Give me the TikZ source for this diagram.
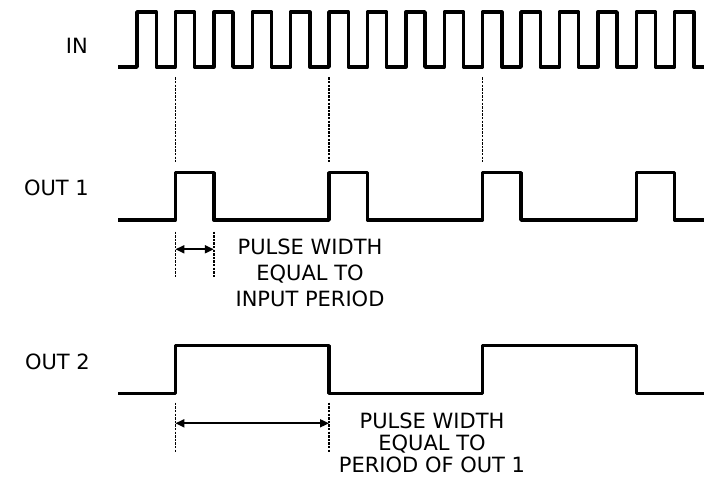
\documentclass[tikz,border=0pt]{standalone}
\usepackage{fontspec}
\setmainfont{DejaVu Sans}
\usetikzlibrary{arrows.meta}
\begin{document}
\begin{tikzpicture}[x=1pt,y=-1pt,
  wave/.style={line width=3.4pt, line join=round},
  guide/.style={line width=1.5pt, dash pattern=on 2.4pt off 1.2pt},
  dimarrow/.style={line width=1.8pt, {Triangle[length=9pt,width=8pt]}-{Triangle[length=9pt,width=8pt]}},
  lbl/.style={font=\fontsize{21}{26}\selectfont, inner sep=0pt, anchor=base east},
  note/.style={font=\fontsize{21}{26}\selectfont, inner sep=0pt, anchor=base}]
\useasboundingbox (0,0) rectangle (704,478);

% labels
\node[lbl] (lin) at (88,53.3) {IN};
\node[lbl] (lout1) at (89,196) {OUT 1};
\node[lbl] (lout2) at (90,369.3) {OUT 2};

% IN waveform
\draw[wave] (118,67)
  \foreach \k in {0,...,14} {
    -- ({137+38.4*\k},67) -- ({137+38.4*\k},12)
    -- ({156.2+38.4*\k},12) -- ({156.2+38.4*\k},67)
  } -- (704,67);

% OUT 1 waveform
\draw[wave] (118,220)
  \foreach \s in {175.4,329,482.6,636.2} {
    -- (\s,220) -- (\s,172.7) -- ({\s+38.4},172.7) -- ({\s+38.4},220)
  } -- (704,220);

% OUT 2 waveform
\draw[wave] (118,393.3) -- (175.4,393.3) -- (175.4,345.7) -- (329,345.7)
  -- (329,393.3) -- (482.6,393.3) -- (482.6,345.7) -- (636.2,345.7)
  -- (636.2,393.3) -- (704,393.3);

% guides from IN to OUT 1
\foreach \x/\n in {175.4/a,329/b,482.6/c} {
  \coordinate (g\n1) at (\x,77.5);
  \coordinate (g\n2) at (\x,161.7);
  \draw[guide] (g\n1) -- (g\n2);
}

% OUT 1 pulse width
\coordinate (p1t) at (175.4,231.7);
\coordinate (p1b) at (175.4,278);
\coordinate (p2t) at (213.8,231.7);
\coordinate (p2b) at (213.8,278);
\draw[guide] (p1t) -- (p1b);
\draw[guide] (p2t) -- (p2b);
\coordinate (a1l) at (175.4,249.3);
\coordinate (a1r) at (213.8,249.3);
\draw[dimarrow] (a1l) -- (a1r);

\node[note] (t11) at (310,255) {PULSE WIDTH};
\node[note] (t12) at (310,281) {EQUAL TO};
\node[note] (t13) at (310,307) {INPUT PERIOD};

% OUT 2 pulse width
\coordinate (q1t) at (175.4,402.7);
\coordinate (q1b) at (175.4,451.7);
\coordinate (q2t) at (329,402.7);
\coordinate (q2b) at (329,451.7);
\draw[guide] (q1t) -- (q1b);
\draw[guide] (q2t) -- (q2b);
\coordinate (a2l) at (175.4,423.3);
\coordinate (a2r) at (329,423.3);
\draw[dimarrow] (a2l) -- (a2r);

\node[note] (t21) at (432,428) {PULSE WIDTH};
\node[note] (t22) at (432,450.5) {EQUAL TO};
\node[note] (t23) at (432,472.5) {PERIOD OF OUT 1};
\end{tikzpicture}
\end{document}
